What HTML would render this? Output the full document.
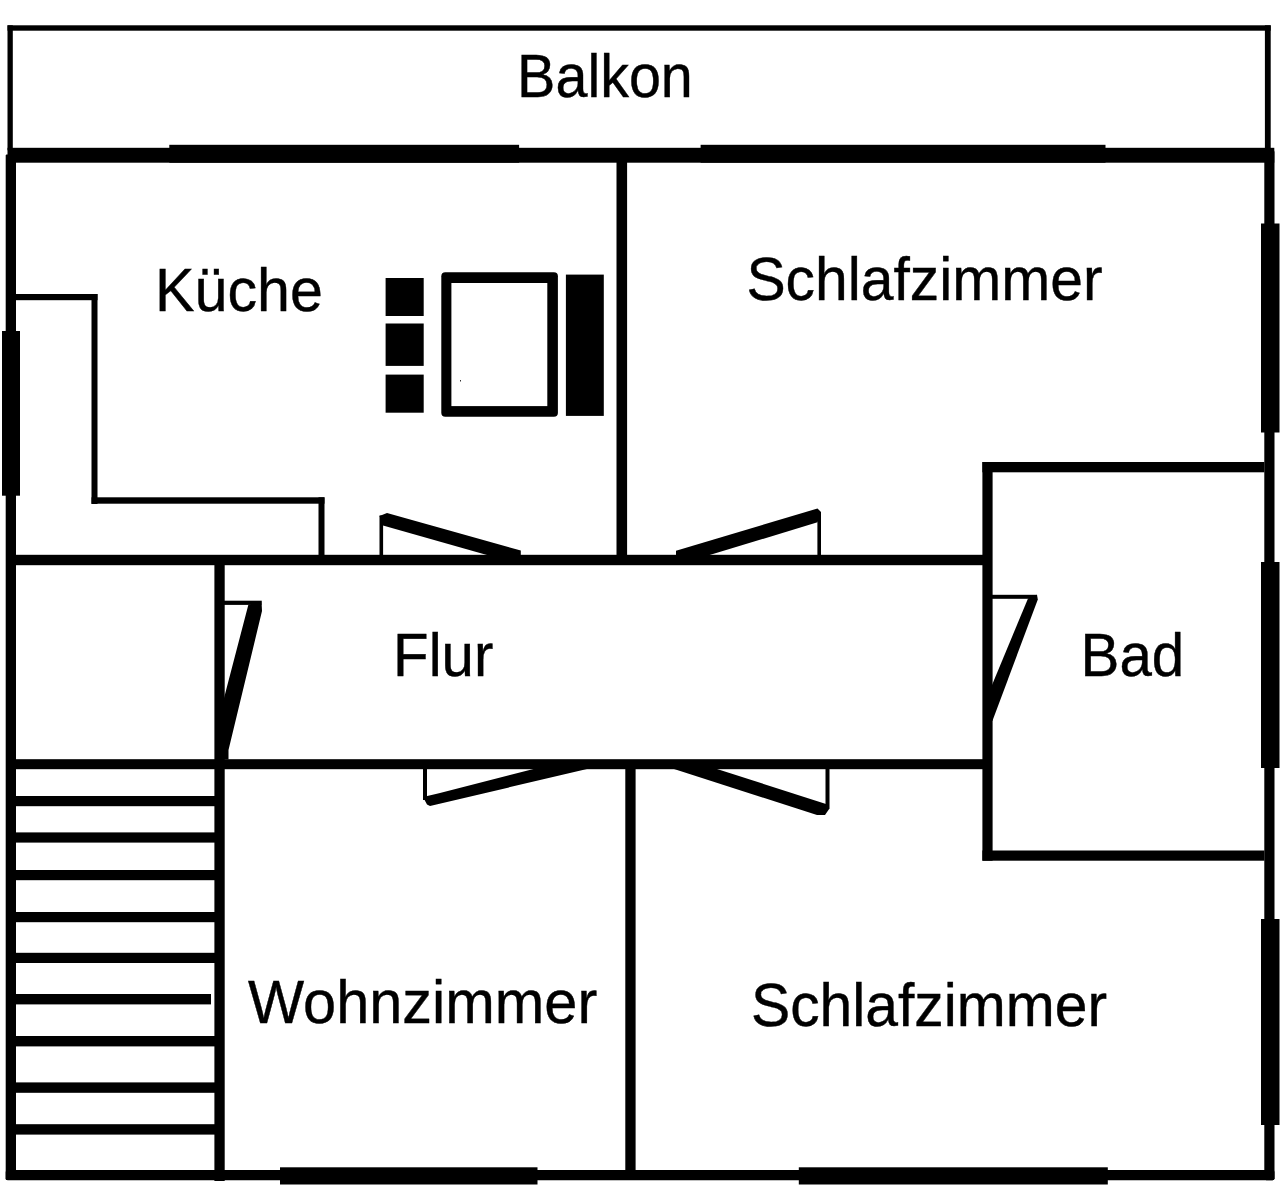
<!DOCTYPE html>
<html lang="de">
<head>
<meta charset="utf-8">
<title>Grundriss</title>
<style>
html,body{margin:0;padding:0;background:#fff;}
body{width:1280px;height:1203px;overflow:hidden;}
svg{display:block;}
text{font-family:"Liberation Sans",Arial,Helvetica,sans-serif;font-size:59.5px;fill:#000;}
</style>
</head>
<body>
<svg width="1280" height="1203" viewBox="0 0 1280 1203">
<rect x="0" y="0" width="1280" height="1203" fill="#fff"/>
<g fill="#000">
<!-- Balkon -->
<rect x="7.500" y="25.3" width="1263.2" height="5.4"/>
<rect x="7.500" y="25.3" width="5.300" height="125"/>
<rect x="1264.9" y="25.3" width="5.800" height="125"/>
<!-- top wall -->
<rect x="7.500" y="147.800" width="1266.800" height="14.900"/>
<rect x="169.300" y="144.800" width="349.800" height="17.900"/>
<rect x="700.600" y="144.800" width="404.900" height="17.900"/>
<!-- left outer wall -->
<rect x="5.700" y="154.500" width="10.300" height="1025.500" rx="1"/>
<rect x="2" y="331" width="18" height="164.700"/>
<!-- right outer wall -->
<rect x="1264.300" y="150" width="10.200" height="1030.300" rx="2"/>
<rect x="1261" y="223.500" width="18.500" height="209"/>
<rect x="1261" y="562" width="18.500" height="206"/>
<rect x="1261" y="919" width="18.500" height="206"/>
<!-- bottom wall -->
<rect x="5.700" y="1170" width="1268.800" height="10.300" rx="2"/>
<rect x="280" y="1167.300" width="257.500" height="17.200"/>
<rect x="798.800" y="1167.300" width="309" height="17.200"/>
<!-- kitchen counter -->
<rect x="16" y="294" width="81.500" height="6.200"/>
<rect x="91.500" y="294" width="6" height="210"/>
<rect x="91.500" y="497.300" width="233" height="6.400"/>
<rect x="318.500" y="497.300" width="6" height="58"/>
<!-- middle wall upper -->
<rect x="16" y="554.800" width="967" height="10.400"/>
<!-- kitchen / schlafzimmer wall -->
<rect x="616.500" y="162" width="10.600" height="393"/>
<!-- Bad -->
<rect x="982.400" y="462" width="282" height="10.300"/>
<rect x="982.400" y="462" width="10.200" height="398.700"/>
<rect x="982.400" y="850.500" width="282" height="10.200"/>
<!-- stair wall -->
<rect x="214.400" y="565" width="10.300" height="616"/>
<!-- lower corridor wall -->
<rect x="16" y="759.200" width="967" height="10"/>
<!-- wohn / schlaf wall -->
<rect x="625.300" y="769" width="10.300" height="402"/>
<!-- stairs -->
<rect x="16" y="796" width="199" height="10.200"/>
<rect x="16" y="832.400" width="199" height="10.200"/>
<rect x="16" y="870" width="199" height="10.200"/>
<rect x="16" y="912" width="199" height="10.200"/>
<rect x="16" y="952.800" width="199" height="10.200"/>
<rect x="16" y="994" width="195" height="10.400"/>
<rect x="16" y="1036" width="199" height="10.400"/>
<rect x="16" y="1082.400" width="199" height="10.400"/>
<rect x="16" y="1124.200" width="199" height="10.400"/>
<!-- table -->
<rect x="385.600" y="278" width="38.100" height="38"/>
<rect x="385.600" y="323.500" width="38.100" height="42.400"/>
<rect x="385.600" y="374.600" width="38.100" height="38.100"/>
<rect x="565.900" y="274.600" width="37.900" height="141.300"/>
<!-- doors: thin parts -->
<rect x="379.500" y="515.500" width="3.600" height="40"/>
<rect x="817.400" y="512" width="3.600" height="43"/>
<rect x="224" y="600.700" width="37.500" height="4.200"/>
<rect x="992" y="594.800" width="45" height="4"/>
<rect x="423" y="769" width="4" height="31"/>
<rect x="825.500" y="769" width="4" height="39.500"/>
<!-- doors: leaves -->
<polygon points="379.500,516 387,513 520.800,550.500 520.800,556 490.500,556 383,525.500"/>
<polygon points="676,550.800 817.500,508.500 821,512 817.500,522.300 708,555.500 676,555.500"/>
<polygon points="248.300,605 261.500,600.700 262,611 228.500,750 228.500,759.500 223.500,759.500 223.500,700"/>
<polygon points="1028,598.500 1037,594.800 1037.800,599.500 992.400,721 991.400,721 991.400,686.500"/>
<polygon points="423,797 439,793.200 533.500,769 587,769 430,806 427,804.500"/>
<polygon points="674,769 717,769 826,804 829.500,808.500 825,815 817,815"/>
</g>
<rect x="441.300" y="272.300" width="116.600" height="144.500" rx="4" ry="4" fill="#000"/>
<rect x="451.400" y="283" width="95.900" height="123.100" fill="#fff"/>
<rect x="460" y="380.200" width="1" height="1.200" fill="#000"/>
<g stroke="#000" stroke-width="0.400">
<text transform="translate(517.100 96.900) scale(0.966 1.020)">Balkon</text>
<text transform="translate(155 310.900) scale(0.995 1.020)">Küche</text>
<text transform="translate(746.400 300) scale(0.9885 1.020)">Schlafzimmer</text>
<text transform="translate(393.100 675.600) scale(0.978 1.020)">Flur</text>
<text transform="translate(1080.600 675.600) scale(0.979 1.020)">Bad</text>
<text transform="translate(248 1022.500) scale(1 1.020)">Wohnzimmer</text>
<text transform="translate(751 1026.100) scale(0.988 1.020)">Schlafzimmer</text>
</g>
</svg>
</body>
</html>
